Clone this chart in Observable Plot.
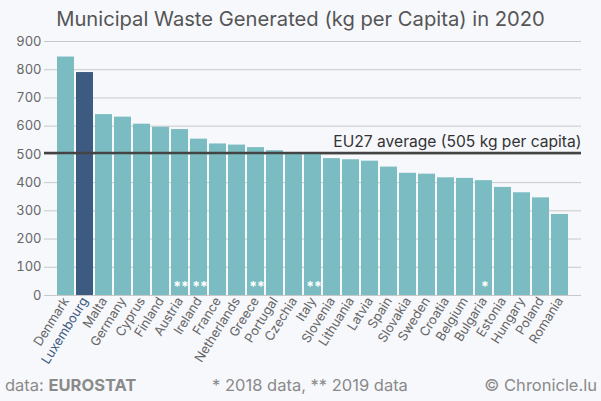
<!DOCTYPE html>
<html>
<head>
<meta charset="utf-8">
<script src="https://cdn.jsdelivr.net/npm/d3@7"></script>
<script src="https://cdn.jsdelivr.net/npm/@observablehq/plot@0.6"></script>
<style>
  html, body { margin: 0; padding: 0; background: #f7f8fc; }
  body { width: 601px; height: 401px; position: relative; overflow: hidden; font-family: Inter, Roboto, sans-serif; }
  #title { position: absolute; top: 7px; left: 0; width: 601px; text-align: center; font-size: 20.2px; line-height: 24px; color: #555; }
  #chart { position: absolute; top: 30px; left: 0; }
  .foot { position: absolute; top: 375px; font-size: 16.5px; line-height: 20px; color: #8a8a8a; white-space: nowrap; }
</style>
</head>
<body>
<div id="title">Municipal Waste Generated (kg per Capita) in 2020</div>
<div id="chart"></div>
<div class="foot" style="left:5px;">data: <b>EUROSTAT</b></div>
<div class="foot" style="left:310px; transform: translateX(-50%);">* 2018 data, ** 2019 data</div>
<div class="foot" style="right:4px;">© Chronicle.lu</div>
<script>
const countries = ["Denmark","Luxembourg","Malta","Germany","Cyprus","Finland","Austria","Ireland","France","Netherlands","Greece","Portugal","Czechia","Italy","Slovenia","Lithuania","Latvia","Spain","Slovakia","Sweden","Croatia","Belgium","Bulgaria","Estonia","Hungary","Poland","Romania"];
const waste = [845,790,641,632,607,596,588,554,537,533,524,513,505,504,485,481,476,455,433,430,417,415,407,383,364,346,287];
const notes = ["","","","","","","**","**","","","**","","","**","","","","","","","","","*","","","",""];
const highlight = "Luxembourg";
const average = 505;
const averageLabel = "EU27 average (505 kg per capita)";
const yTicks = [0,100,200,300,400,500,600,700,800,900];

const data = countries.map((c, i) => ({country: c, value: waste[i], note: notes[i]}));
const others = countries.filter(c => c !== highlight);

const chart = Plot.plot({
  width: 601,
  height: 340,
  marginTop: 11,
  marginBottom: 75,
  marginLeft: 44,
  marginRight: 20,
  style: {background: "transparent", fontFamily: "Inter, Roboto, sans-serif"},
  x: {domain: countries, paddingInner: 0.1, paddingOuter: 0.05, label: null},
  y: {domain: [0, 900], label: null},
  marks: [
    Plot.gridY(yTicks, {stroke: "#c8c8c8", strokeOpacity: 1, strokeWidth: 1}),
    Plot.barY(data, {x: "country", y: "value", fill: d => d.country === highlight ? "#3d5a80" : "#7bbcc2"}),
    Plot.text(data.filter(d => d.note), {x: "country", y: 0, text: "note", dy: -8, dx: 1, fill: "white", fontSize: 14, fontWeight: "bold", style: "letter-spacing:2.5px"}),
    Plot.ruleY([average], {stroke: "#444", strokeWidth: 2.5}),
    Plot.text([average], {y: d => d, frameAnchor: "right", text: () => averageLabel, textAnchor: "end", dy: -11, fontSize: 15.6, fill: "#333"}),
    Plot.axisY(yTicks, {tickSize: 0, tickPadding: 3, fontSize: 13, color: "#666", label: null}),
    Plot.axisX(others, {tickSize: 0, tickPadding: 3, tickRotate: -58, fontSize: 12.8, color: "#666", label: null}),
    Plot.axisX([highlight], {tickSize: 0, tickPadding: 3, tickRotate: -58, fontSize: 12.8, color: "#3d5a80", label: null})
  ]
});
document.getElementById("chart").appendChild(chart);
</script>
</body>
</html>
